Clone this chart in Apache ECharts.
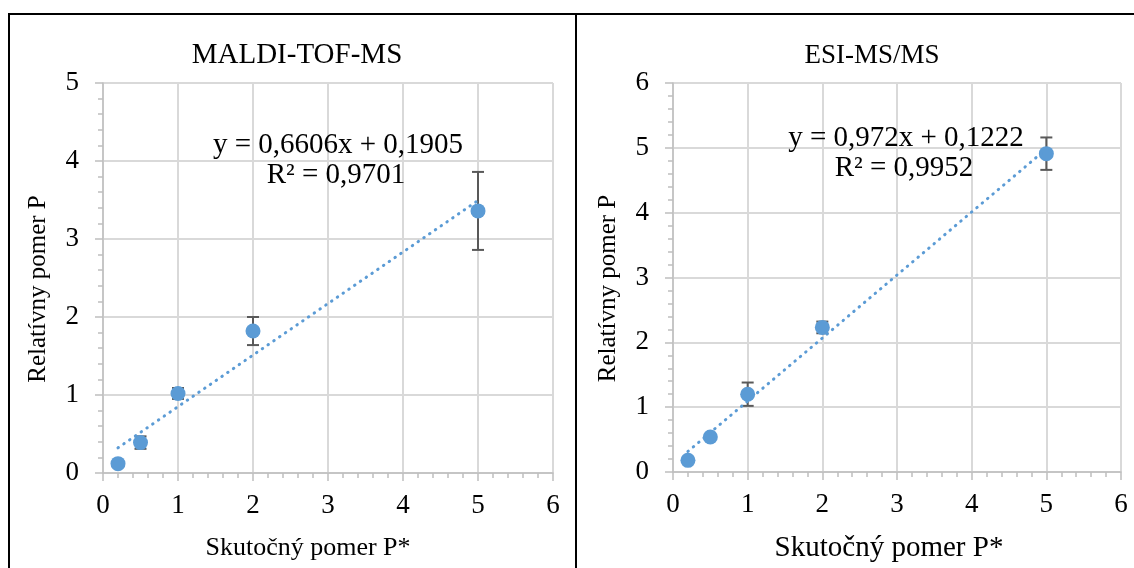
<!DOCTYPE html>
<html>
<head>
<meta charset="utf-8">
<script src="https://cdn.jsdelivr.net/npm/echarts@6/dist/echarts.min.js"></script>
<style>
html,body{margin:0;padding:0;background:#fff;}
#c{width:1134px;height:568px;}
</style>
</head>
<body>
<div id="c"></div>
<script>
// ---- data ----
var panelTitles = ['MALDI-TOF-MS', 'ESI-MS/MS'];
var xName = 'Skutočný pomer P*';
var yName = 'Relatívny pomer P';
var xLeft = [0.2, 0.5, 1, 2, 5];
var yLeft = [0.12, 0.39, 1.02, 1.82, 3.36];
var errLeft = [0.02, 0.08, 0.07, 0.18, 0.5];
var xRight = [0.2, 0.5, 1, 2, 5];
var yRight = [0.18, 0.54, 1.2, 2.23, 4.91];
var errRight = [0.03, 0.03, 0.18, 0.09, 0.25];
var trendLeftX = [0.2, 5];
var trendLeftY = [0.3226, 3.4935];
var trendRightX = [0.2, 5];
var trendRightY = [0.3166, 4.9822];
var eqLeft = ['y = 0,6606x + 0,1905', 'R² = 0,9701'];
var eqRight = ['y = 0,972x + 0,1222', 'R² = 0,9952'];
var yMaxLeft = 5, yMaxRight = 6;

var FONT = '"Liberation Serif", "Times New Roman", serif';
var BLUE = '#5b9bd5';

function pairs(xs, ys) { return xs.map(function (x, i) { return [x, ys[i]]; }); }
function triples(xs, ys, es) { return xs.map(function (x, i) { return [x, ys[i], es[i]]; }); }

function xAxisCfg(gi, nameSize, shift) {
  return {
    gridIndex: gi, type: 'value', min: 0, max: 6, interval: 1,
    name: xName, nameLocation: 'middle', nameGap: 62,
    nameTextStyle: { fontFamily: FONT, fontSize: nameSize, color: '#000', padding: [0, shift, 0, 0] },
    axisLine: { show: true, lineStyle: { color: '#bfbfbf', width: 1.5 } },
    axisTick: { show: true, length: 8, lineStyle: { color: '#bfbfbf', width: 1.5 } },
    minorTick: { show: true, splitNumber: 5, length: 5, lineStyle: { color: '#bfbfbf', width: 1.5 } },
    axisLabel: { fontFamily: FONT, fontSize: 27, color: '#000', margin: 19 },
    splitLine: { show: true, lineStyle: { color: '#d9d9d9', width: 2 } }
  };
}
function yAxisCfg(gi, max, nameSize) {
  return {
    gridIndex: gi, type: 'value', min: 0, max: max, interval: 1,
    name: yName, nameLocation: 'middle', nameGap: 52, nameRotate: 90,
    nameTextStyle: { fontFamily: FONT, fontSize: nameSize, color: '#000', padding: [0, 22, 0, 0] },
    axisLine: { show: true, lineStyle: { color: '#bfbfbf', width: 1.5 } },
    axisTick: { show: true, length: 8, lineStyle: { color: '#bfbfbf', width: 1.5 } },
    minorTick: { show: true, splitNumber: 5, length: 5, lineStyle: { color: '#bfbfbf', width: 1.5 } },
    axisLabel: { fontFamily: FONT, fontSize: 27, color: '#000', margin: 24 },
    splitLine: { show: true, lineStyle: { color: '#d9d9d9', width: 2 } }
  };
}
function errSeries(gi, data) {
  return {
    type: 'custom', xAxisIndex: gi, yAxisIndex: gi, z: 2,
    data: data,
    renderItem: function (params, api) {
      var x = api.value(0), y = api.value(1), e = api.value(2);
      var top = api.coord([x, y + e]);
      var bot = api.coord([x, y - e]);
      var w = 6;
      var st = { stroke: '#595959', lineWidth: 2 };
      return {
        type: 'group',
        children: [
          { type: 'line', shape: { x1: top[0], y1: top[1], x2: bot[0], y2: bot[1] }, style: st },
          { type: 'line', shape: { x1: top[0] - w, y1: top[1], x2: top[0] + w, y2: top[1] }, style: st },
          { type: 'line', shape: { x1: bot[0] - w, y1: bot[1], x2: bot[0] + w, y2: bot[1] }, style: st }
        ]
      };
    }
  };
}
function scatterSeries(gi, data) {
  return {
    type: 'scatter', xAxisIndex: gi, yAxisIndex: gi, z: 3,
    symbol: 'circle', symbolSize: 15,
    itemStyle: { color: BLUE, opacity: 1 },
    data: data
  };
}
function trendSeries(gi, data) {
  return {
    type: 'line', xAxisIndex: gi, yAxisIndex: gi, z: 4,
    showSymbol: false, symbol: 'none', silent: true,
    lineStyle: { color: BLUE, width: 3, type: [0.5, 6.5], cap: 'round' },
    data: data
  };
}
function textTitle(txt, left, top, size) {
  return {
    text: txt, left: left, top: top, textAlign: 'center',
    textStyle: { fontFamily: FONT, fontSize: size, fontWeight: 'normal', color: '#000' }
  };
}

var chart = echarts.init(document.getElementById('c'), null, { renderer: 'canvas' });
chart.setOption({
  backgroundColor: '#fff',
  animation: false,
  title: [
    textTitle(panelTitles[0], 292, 36, 29),
    textTitle(panelTitles[1], 867, 37, 27),
    textTitle(eqLeft[0], 333, 126, 29),
    textTitle(eqLeft[1], 331, 156, 29),
    textTitle(eqRight[0], 901, 119, 29),
    textTitle(eqRight[1], 899, 149, 29)
  ],
  grid: [
    { left: 103, top: 83, width: 450, height: 390, containLabel: false },
    { left: 673, top: 83, width: 448, height: 389, containLabel: false }
  ],
  xAxis: [xAxisCfg(0, 26, 40), xAxisCfg(1, 29, 16)],
  yAxis: [yAxisCfg(0, yMaxLeft, 25), yAxisCfg(1, yMaxRight, 25)],
  series: [
    errSeries(0, triples(xLeft, yLeft, errLeft)),
    scatterSeries(0, pairs(xLeft, yLeft)),
    trendSeries(0, pairs(trendLeftX, trendLeftY)),
    errSeries(1, triples(xRight, yRight, errRight)),
    scatterSeries(1, pairs(xRight, yRight)),
    trendSeries(1, pairs(trendRightX, trendRightY))
  ],
  graphic: [
    { type: 'line', shape: { x1: 9, y1: 14, x2: 1134, y2: 14 }, style: { stroke: '#000', lineWidth: 2 } },
    { type: 'line', shape: { x1: 9, y1: 13, x2: 9, y2: 568 }, style: { stroke: '#000', lineWidth: 2 } },
    { type: 'line', shape: { x1: 576, y1: 13, x2: 576, y2: 568 }, style: { stroke: '#000', lineWidth: 2 } }
  ]
});
</script>
</body>
</html>
